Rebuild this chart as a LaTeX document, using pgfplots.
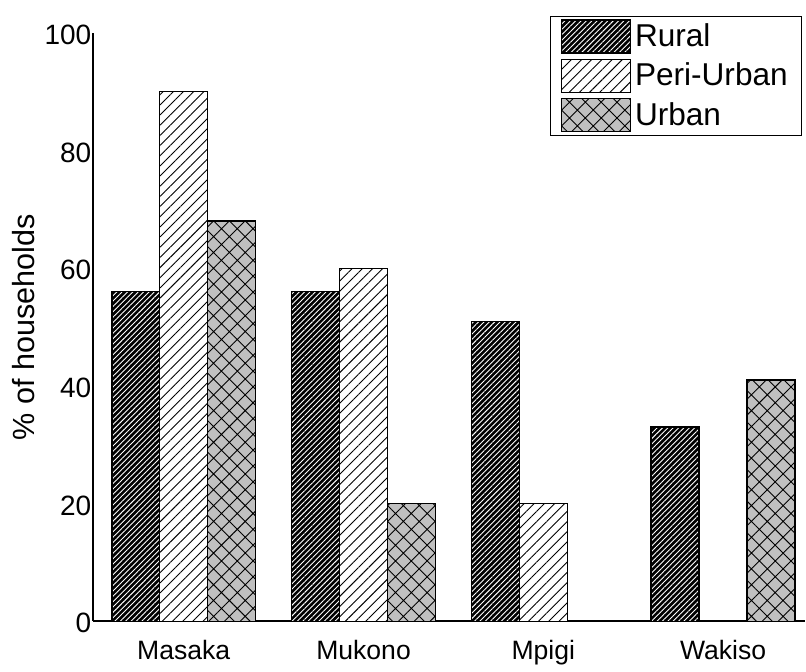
\documentclass[border=0pt]{standalone}
\usepackage{pgfplots}
\pgfplotsset{compat=1.18}
\usepackage{fontspec}
\setmainfont{Liberation Sans}
\usetikzlibrary{patterns.meta}

\definecolor{urbangray}{RGB}{192,192,192}

\begin{document}
\begin{tikzpicture}
\begin{axis}[
  scale only axis,
  width=356.5pt, height=294.5pt,
  ybar=0pt, bar width=24pt,
  xmin=-0.5056, xmax=3.4556,
  ymin=0, ymax=100,
  clip=false,
  axis x line*=bottom, axis y line*=left,
  axis line style={line width=1pt, -},
  xtick={0,1,2,3},
  xticklabels={Masaka,Mukono,Mpigi,Wakiso},
  ytick={0,20,40,60,80,100},
  yticklabels={0,20,40,60,80,100},
  major tick length=0pt,
  yticklabel style={font=\fontsize{14}{16}\selectfont, inner xsep=0.6pt, yshift=-1pt},
  xticklabel style={font=\fontsize{13.3}{15}\selectfont, yshift=-6pt},
  ylabel={\% of households},
  ylabel shift=1pt,
  ylabel style={font=\fontsize{15.3}{17}\selectfont},
  legend style={
    at={(rel axis cs:0.996,1.029)}, anchor=north east,
    draw=black, line width=0.5pt,
    font=\fontsize{15.8}{17}\selectfont,
    row sep=2.5pt, inner xsep=5pt, inner ysep=1.5pt,
  },
  legend cell align=left,
  legend image code/.code={
    \draw[#1] (0pt,-8.25pt) rectangle (34.5pt,8.25pt);
  },
]
% Rural: black with fine white diagonals
\addplot[draw=black, line width=0.7pt, fill=black,
  postaction={pattern={Lines[angle=45,distance=1.9pt,line width=0.45pt]}, pattern color=white}]
  coordinates {(0,56) (1,56) (2,51) (3,33)};
% Peri-Urban: white with black diagonals
\addplot[draw=black, line width=0.7pt, fill=white,
  postaction={pattern={Lines[angle=45,distance=3.6pt,line width=0.45pt]}, pattern color=black}]
  coordinates {(0,90) (1,60) (2,20)};
% Urban: grey with cross-hatching
\addplot[draw=black, line width=0.7pt, fill=urbangray,
  postaction={pattern={Hatch[angle=45,distance=5.6pt,line width=0.45pt]}, pattern color=black}]
  coordinates {(0,68) (1,20) (3,41)};
\legend{Rural,Peri-Urban,Urban}
% page extent around the axis
\path (rel axis cs:-0.1304,-0.0781) rectangle (rel axis cs:1,1.056);
\end{axis}
\end{tikzpicture}
\end{document}
